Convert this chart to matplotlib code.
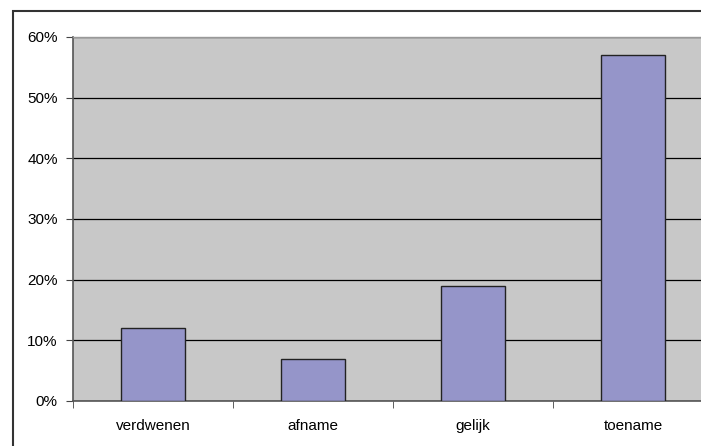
import matplotlib.pyplot as plt
import matplotlib.patches as mpatches
from matplotlib.ticker import PercentFormatter, FixedLocator
import numpy as np

categories = ["verdwenen", "afname", "gelijk", "toename"]
values = [12, 7, 19, 57]

plt.rcParams["font.family"] = ["Liberation Sans", "DejaVu Sans"]

fig = plt.figure(figsize=(7.01, 4.46), dpi=100)
fig.patches.append(mpatches.Rectangle((13 / 701, -0.1), 1.2, (446 - 11) / 446 + 0.1,
                                      transform=fig.transFigure, fill=False,
                                      edgecolor="#333333", linewidth=1.5))

ax = fig.add_axes([73 / 701, 45 / 446, 640 / 701, 364 / 446])
ax.set_facecolor("#C8C8C8")
x = np.arange(len(categories))
ax.bar(x, values, width=0.4, color="#9595C9", edgecolor="#222222", linewidth=1, zorder=3)

ax.set_xlim(-0.5, 3.5)
ax.set_ylim(0, 60)
ax.set_yticks(np.arange(0, 61, 10))
ax.yaxis.set_major_formatter(PercentFormatter(decimals=0))
ax.grid(axis="y", color="black", linewidth=0.9, zorder=1)
ax.set_axisbelow(True)

ax.set_xticks(x)
ax.set_xticklabels(categories)
ax.xaxis.set_minor_locator(FixedLocator(np.arange(-0.5, 3.6, 1)))
ax.tick_params(axis="x", which="major", length=0, pad=13, labelsize=11)
ax.tick_params(axis="x", which="minor", length=5, color="#444444", direction="out")
ax.tick_params(axis="y", length=5, color="#444444", labelsize=11, pad=6)

for side in ["left", "bottom"]:
    ax.spines[side].set_color("#555555")
    ax.spines[side].set_linewidth(1.2)
ax.spines["top"].set_color("#999999")
ax.spines["top"].set_linewidth(1)
ax.spines["right"].set_visible(False)

plt.savefig("out.png", dpi=100)
